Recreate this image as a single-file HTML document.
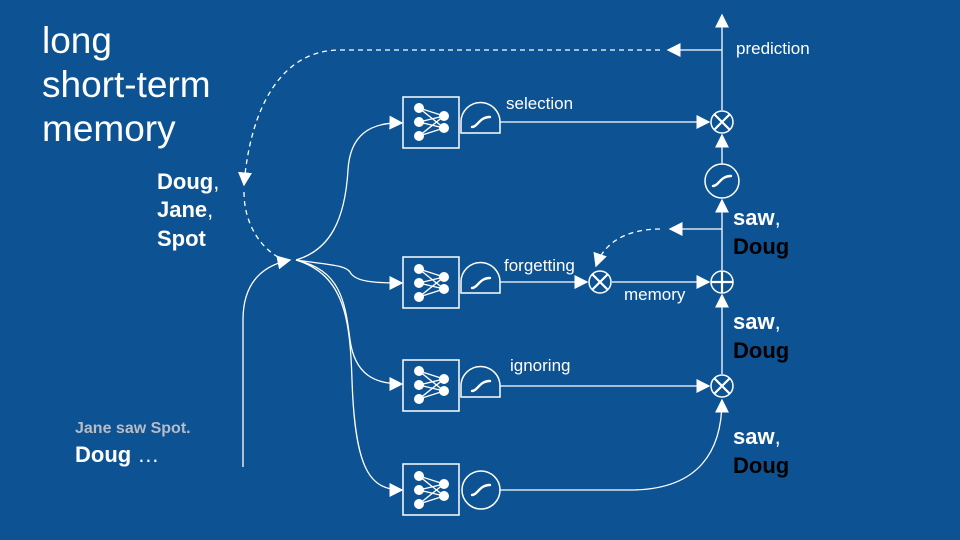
<!DOCTYPE html>
<html><head><meta charset="utf-8"><style>
html,body{margin:0;padding:0;background:#0d5293;}
svg{display:block;font-family:"Liberation Sans",Arial,sans-serif;}
</style></head><body>
<svg width="960" height="540" viewBox="0 0 960 540" xmlns="http://www.w3.org/2000/svg">
<defs>
<marker id="a" viewBox="0 0 10 10" refX="9" refY="5" markerWidth="14" markerHeight="14" markerUnits="userSpaceOnUse" orient="auto"><path d="M0,0L10,5L0,10z" fill="#fff"/></marker>
<g id="nn" fill="#fff" stroke="#fff" stroke-width="1.4">
<line x1="-12" y1="-14" x2="13" y2="-6"/><line x1="-12" y1="-14" x2="13" y2="6"/>
<line x1="-12" y1="0" x2="13" y2="-6"/><line x1="-12" y1="0" x2="13" y2="6"/>
<line x1="-12" y1="14" x2="13" y2="-6"/><line x1="-12" y1="14" x2="13" y2="6"/>
<circle cx="-12" cy="-14" r="4.3"/><circle cx="-12" cy="0" r="4.3"/><circle cx="-12" cy="14" r="4.3"/>
<circle cx="13" cy="-6" r="4.3"/><circle cx="13" cy="6" r="4.3"/>
</g>
<path id="sg" d="M-9,5 C-3,5 -2,-5 9,-5" fill="none" stroke="#fff" stroke-width="2.4" stroke-linecap="round"/>
</defs>
<rect width="960" height="540" fill="#0d5293"/>
<g fill="#fff" font-size="37">
<text x="42" y="53">long</text><text x="42" y="97">short-term</text><text x="42" y="141">memory</text>
</g>
<g font-size="22" font-weight="bold" fill="#fff">
<text x="157" y="189">Doug<tspan font-weight="normal">,</tspan></text>
<text x="157" y="217">Jane<tspan font-weight="normal">,</tspan></text>
<text x="157" y="246">Spot</text>
</g>
<text x="75" y="433" font-size="16" font-weight="bold" fill="#b8bcc4">Jane saw Spot.</text>
<text x="75" y="462" font-size="22" font-weight="bold" fill="#fff">Doug <tspan font-weight="normal">…</tspan></text>
<g font-size="22" font-weight="bold">
<text x="733" y="225" fill="#fff">saw<tspan font-weight="normal">,</tspan></text><text x="733" y="254" fill="#000">Doug</text>
<text x="733" y="329" fill="#fff">saw<tspan font-weight="normal">,</tspan></text><text x="733" y="358" fill="#000">Doug</text>
<text x="733" y="444" fill="#fff">saw<tspan font-weight="normal">,</tspan></text><text x="733" y="473" fill="#000">Doug</text>
</g>
<g font-size="17" fill="#fff">
<text x="736" y="54">prediction</text>
<text x="506" y="109">selection</text>
<text x="504" y="271">forgetting</text>
<text x="624" y="300">memory</text>
<text x="510" y="371">ignoring</text>
</g>
<g fill="none" stroke="#fff" stroke-width="1.3">
<path d="M660,50 L340,50 C280,50 250,110 244,185" stroke-dasharray="5,4" marker-end="url(#a)"/>
<path d="M244,192 C244,225 262,250 282,259" stroke-dasharray="5,4"/>
<path d="M660,229 C630,229 605,240 596,266" stroke-dasharray="5,4" marker-end="url(#a)"/>
<path d="M243,467 L243,320 C243,285 260,266 290,260" marker-end="url(#a)"/>
<path d="M296,260 C330,250 345,220 348,170 C350,135 370,122 402,123" marker-end="url(#a)"/>
<path d="M296,260 C330,265 345,265 350,272 C355,282 375,283 402,283" marker-end="url(#a)"/>
<path d="M296,260 C340,270 345,300 350,340 C355,375 375,384 402,384" marker-end="url(#a)"/>
<path d="M296,260 C345,275 350,320 352,380 C355,470 370,490 402,490" marker-end="url(#a)"/>
<path d="M500,122 L709,122" marker-end="url(#a)"/>
<path d="M500,282 L587,282" marker-end="url(#a)"/>
<path d="M612,282 L709,282" marker-end="url(#a)"/>
<path d="M500,386 L709,386" marker-end="url(#a)"/>
<path d="M500,490 L630,490 C700,490 722,450 722,400" marker-end="url(#a)"/>
<path d="M722,374 L722,295" marker-end="url(#a)"/>
<path d="M722,270 L722,200" marker-end="url(#a)"/>
<path d="M722,229 L670,229" marker-end="url(#a)"/>
<path d="M722,164 L722,135" marker-end="url(#a)"/>
<path d="M722,110 L722,15" marker-end="url(#a)"/>
<path d="M722,50 L668,50" marker-end="url(#a)"/>
</g>
<g stroke="#fff" stroke-width="1.5" fill="none">
<rect x="403" y="97" width="56" height="51"/>
<rect x="403" y="257" width="56" height="51"/>
<rect x="403" y="360" width="56" height="51"/>
<rect x="403" y="464" width="56" height="51"/>
<path d="M461,133 L461,122 A19.5,19.5 0 0 1 500,122 L500,133 Z"/>
<path d="M461,293 L461,282 A19.5,19.5 0 0 1 500,282 L500,293 Z"/>
<path d="M461,397 L461,386 A19.5,19.5 0 0 1 500,386 L500,397 Z"/>
<circle cx="481" cy="490" r="19"/>
<circle cx="722" cy="181" r="17"/>
</g>
<use href="#nn" x="431" y="122"/><use href="#nn" x="431" y="283"/><use href="#nn" x="431" y="385"/><use href="#nn" x="431" y="490"/>
<use href="#sg" x="481" y="122"/><use href="#sg" x="481" y="283"/><use href="#sg" x="481" y="386"/><use href="#sg" x="481" y="490"/><use href="#sg" x="722" y="181"/>
<g stroke="#fff" stroke-width="1.5" fill="#0d5293">
<circle cx="722" cy="122" r="11"/><path d="M714,114L730,130M730,114L714,130" stroke-width="2.2"/>
<circle cx="600" cy="282" r="11"/><path d="M592,274L608,290M608,274L592,290" stroke-width="2.2"/>
<circle cx="722" cy="386" r="11"/><path d="M714,378L730,394M730,378L714,394" stroke-width="2.2"/>
<circle cx="722" cy="282" r="11"/><path d="M711,282L733,282M722,271L722,293" stroke-width="2.2"/>
</g>
</svg>
</body></html>
